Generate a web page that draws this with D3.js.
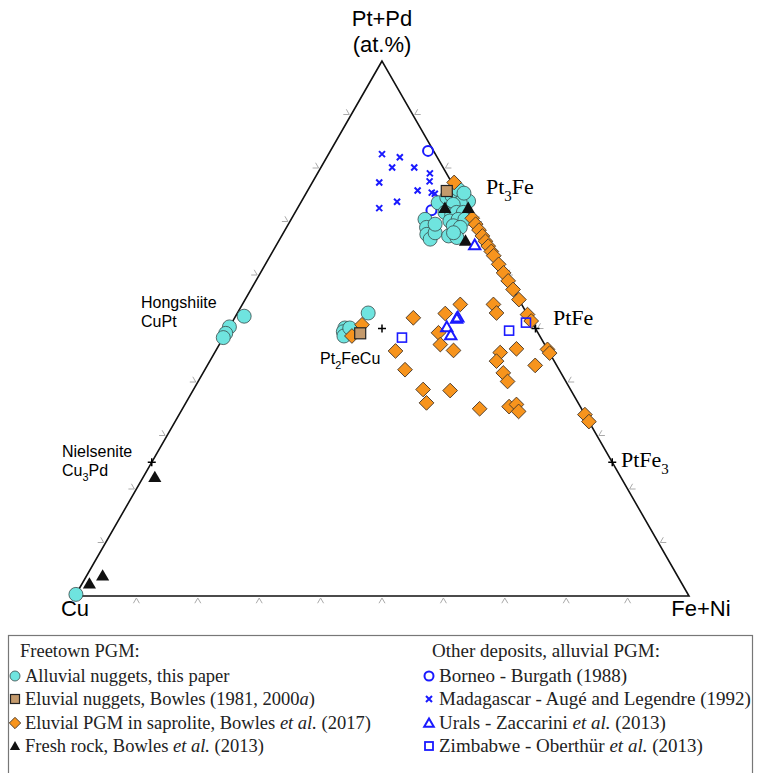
<!DOCTYPE html>
<html>
<head>
<meta charset="utf-8">
<script src="https://cdnjs.cloudflare.com/ajax/libs/d3/7.8.5/d3.min.js"></script>
<style>
    body { margin: 0; background: #fff; }
    #tern-chart svg { display: block; }
</style>
</head>
<body>
<div id="tern-chart"></div>
<script>
// compositions are [Pt+Pd, Fe+Ni] in at.%, Cu is whatever is left
const alluvialNuggets = [
    [73.5,22.4],[74.5,23.3],[74.8,24.0],[74.5,25.2],[74.8,25.9],[73.8,27.2],[73.5,26.0],[73.2,25.0],
    [71.7,24.4],[71.3,25.7],[71.7,26.3],[71.7,27.4],[70.1,26.0],[70.4,27.2],[70.4,28.3],[69.2,27.0],
    [68.9,28.3],[70.4,21.8],[68.9,22.8],[67.6,23.5],[66.7,24.5],[67.9,24.7],[69.5,23.9],[67.3,27.2],
    [67.0,28.7],[67.9,27.7],[76.0,24.4],[75.3,25.7],
    [52.3,1.4],[50.3,0],[49.1,0],[48.3,0],
    [52.9,21.3],[50.1,18.9],[49.4,19.0],[48.6,19.5],[50.1,19.7],
    [0.3,0]
];
const eluvialNuggets = [[75.7,22.7],[49.1,21.9]];
const saprolitePGM = [
    // along the Pt-Fe join
    [77.3,23.1],[70.6,29.4],[69.5,30.5],[68.4,31.6],[67.3,32.7],[66.3,33.7],[65.4,34.6],[64.4,35.6],
    [63.6,36.4],[62.0,38.0],[60.4,39.6],[58.9,41.1],[57.3,42.7],[55.4,44.6],[52.6,47.4],[51.4,48.6],
    [46.1,53.9],[45.4,54.6],[33.9,66.1],[32.6,67.4],
    // inside the triangle
    [54.5,35.5],[54.5,40.9],[52.9,42.2],[52.0,29.1],[52.8,33.9],[49.2,34.6],[47.0,36.0],[45.9,38.7],
    [45.8,29.3],[42.3,32.6],[45.5,46.5],[43.9,46.7],[46.2,48.8],[43.1,53.4],[41.7,48.9],[40.1,50.4],
    [38.6,37.4],[38.4,41.9],[36.1,39.2],[35.0,48.4],[35.4,53.0],[35.8,54.0],[34.5,55.0],
    [50.7,21.4],[48.6,20.8]
];
const freshRock = [[22.0,2.0],[2.1,1.3],[3.6,2.7],[72.3,24.1],[72.3,27.9],[66.2,30.5]];
const borneo = [[83.2,15.9],[72.1,22.0]];
const madagascar = [
    [82.6,8.7],[82.0,11.9],[80.1,11.6],[80.1,15.2],[79.0,18.3],[77.3,10.9],[77.5,19.0],[75.8,17.9],
    [75.4,20.4],[75.2,21.0],[73.7,15.6],[72.5,13.3],[67.0,33.0]
];
const urals = [[65.4,32.4],[51.7,36.3],[51.9,36.4],[50.1,35.5],[48.6,36.9]];
const zimbabwe = [[48.3,29.1],[49.6,45.9],[51.1,47.9]];

// ideal phases, marked with a small +
const phaseNames = ["Pt3Fe","PtFe","PtFe3","Pt2FeCu","CuPt","Cu3Pd"];
const phaseComps = [[75,25],[50,50],[25,75],[50,25],[50,0],[25,0]];
const tickValues = [10,20,30,40,50,60,70,80,90];

class ternaryPlot {
    constructor(){
        this.width = 762;
        this.height = 773;
        // base of the triangle and the Pt+Pd height
        this.xScale = d3.scaleLinear().domain([0,100]).range([75, 689]);
        this.yScale = d3.scaleLinear().domain([0,100]).range([596, 61]);
    }
    pos(d){
        return [this.xScale(d[1] + d[0]/2), this.yScale(d[0])];
    }
    draw(){
        let that = this;
        let svg = d3.select("#tern-chart")
            .append("svg")
            .attr("width", this.width)
            .attr("height", this.height);
        this.svg = svg;

        let corners = [[100,0],[0,0],[0,100]].map(d => that.pos(d));
        svg.append("path")
            .attr("d", d3.line()(corners) + "Z")
            .attr("fill", "none")
            .attr("stroke", "#111")
            .attr("stroke-width", 1.6);

        // little chevron ticks outside each side, every 10 %
        let tickLen = 6;
        let ticks = svg.append("g").attr("class", "ticks")
            .attr("stroke", "#aaa").attr("stroke-width", 1).attr("fill", "none");
        // base (Cu - Fe+Ni)
        ticks.selectAll(".tb").data(tickValues).enter().append("path")
            .attr("d", v => {
                let p = that.pos([0, v]);
                return "M" + (p[0]-tickLen*0.5) + "," + (p[1]+2+tickLen*0.87) + "L" + p[0] + "," + (p[1]+2) +
                    "L" + (p[0]+tickLen*0.5) + "," + (p[1]+2+tickLen*0.87);
            });
        // left side (Cu - Pt+Pd)
        ticks.selectAll(".tl").data(tickValues).enter().append("path")
            .attr("d", v => {
                let p = that.pos([v, 0]);
                let x0 = p[0]-2;
                return "M" + (x0-tickLen) + "," + p[1] + "L" + x0 + "," + p[1] +
                    "L" + (x0-tickLen*0.5) + "," + (p[1]-tickLen*0.87);
            });
        // right side (Pt+Pd - Fe+Ni)
        ticks.selectAll(".tr").data(tickValues).enter().append("path")
            .attr("d", v => {
                let p = that.pos([v, 100-v]);
                let x0 = p[0]+2;
                return "M" + (x0+tickLen) + "," + p[1] + "L" + x0 + "," + p[1] +
                    "L" + (x0+tickLen*0.5) + "," + (p[1]-tickLen*0.87);
            });

        // phase crosses
        svg.append("g").selectAll("path")
            .data(phaseComps).enter()
            .append("path")
            .attr("d", d => {
                let p = that.pos(d);
                return "M" + (p[0]-4) + "," + p[1] + "h8M" + p[0] + "," + (p[1]-4) + "v8";
            })
            .attr("stroke", "#000")
            .attr("stroke-width", 1.5);

        let blue = "#1a1aff";
        let sym = (type, size) => d3.symbol().type(type).size(size);

        // Borneo
        svg.append("g").selectAll("circle").data(borneo).enter()
            .append("circle")
            .attr("cx", d => that.pos(d)[0]).attr("cy", d => that.pos(d)[1])
            .attr("r", 5).attr("fill", "none").attr("stroke", blue).attr("stroke-width", 2);
        // Madagascar
        svg.append("g").selectAll("path").data(madagascar).enter()
            .append("path")
            .attr("transform", d => "translate(" + that.pos(d) + ")")
            .attr("d", "M-3,-3L3,3M-3,3L3,-3")
            .attr("stroke", blue).attr("stroke-width", 2);
        // Freetown alluvial
        svg.append("g").selectAll("circle").data(alluvialNuggets).enter()
            .append("circle")
            .attr("cx", d => that.pos(d)[0]).attr("cy", d => that.pos(d)[1])
            .attr("r", 7)
            .attr("fill", "#6fe4df").attr("stroke", "#3a4a4a").attr("stroke-width", 0.8);
        // saprolite PGM
        svg.append("g").selectAll("path").data(saprolitePGM).enter()
            .append("path")
            .attr("transform", d => "translate(" + that.pos(d) + ") rotate(45)")
            .attr("d", "M-5.2,-5.2h10.4v10.4h-10.4Z")
            .attr("fill", "#f7941d").attr("stroke", "#4a3a2a").attr("stroke-width", 0.9);
        // eluvial nuggets
        svg.append("g").selectAll("rect").data(eluvialNuggets).enter()
            .append("rect")
            .attr("x", d => that.pos(d)[0]-5.5).attr("y", d => that.pos(d)[1]-5.5)
            .attr("width", 11).attr("height", 11)
            .attr("fill", "#c49a6c").attr("stroke", "#222").attr("stroke-width", 1.2);
        // fresh rock
        svg.append("g").selectAll("path").data(freshRock).enter()
            .append("path")
            .attr("transform", d => "translate(" + that.pos(d) + ")")
            .attr("d", sym(d3.symbolTriangle, 75))
            .attr("fill", "#111");
        // Urals
        svg.append("g").selectAll("path").data(urals).enter()
            .append("path")
            .attr("transform", d => "translate(" + that.pos(d) + ")")
            .attr("d", sym(d3.symbolTriangle, 55))
            .attr("fill", "none").attr("stroke", blue).attr("stroke-width", 2);
        // Zimbabwe
        svg.append("g").selectAll("rect").data(zimbabwe).enter()
            .append("rect")
            .attr("x", d => that.pos(d)[0]-4.5).attr("y", d => that.pos(d)[1]-4.5)
            .attr("width", 9).attr("height", 9)
            .attr("fill", "none").attr("stroke", blue).attr("stroke-width", 1.6);

        this.labels();
        this.legend();
    }
    labels(){
        let svg = this.svg;
        let sans = "'Liberation Sans', Arial, sans-serif";
        let serif = "'Liberation Serif', 'Times New Roman', serif";
        let apex = this.pos([100,0]);

        svg.append("text").attr("x", apex[0]).attr("y", 26).attr("text-anchor", "middle")
            .style("font-family", sans).style("font-size", "22px").text("Pt+Pd");
        svg.append("text").attr("x", apex[0]).attr("y", 52).attr("text-anchor", "middle")
            .style("font-family", sans).style("font-size", "22px").text("(at.%)");
        svg.append("text").attr("x", this.xScale(0)).attr("y", 616).attr("text-anchor", "middle")
            .style("font-family", sans).style("font-size", "22px").text("Cu");
        svg.append("text").attr("x", this.xScale(100)+12).attr("y", 616).attr("text-anchor", "middle")
            .style("font-family", sans).style("font-size", "22px").text("Fe+Ni");

        // phase labels, subscript parts flagged with 1
        let sub = (parts, x, y, font, size) => {
            let txt = svg.append("text").attr("x", x).attr("y", y)
                .style("font-family", font).style("font-size", size + "px");
            let down = false;
            parts.forEach(p => {
                let ts = txt.append("tspan").text(p[0]);
                if (p[1]) {
                    ts.attr("dy", size*0.3).style("font-size", (size*0.68) + "px");
                    down = true;
                } else if (down) {
                    ts.attr("dy", -size*0.3);
                    down = false;
                }
            });
            return txt;
        };
        sub([["Pt"],["3",1],["Fe"]], 486, 194, serif, 22);
        sub([["PtFe"]], 553, 325, serif, 22);
        sub([["PtFe"],["3",1]], 621, 467, serif, 22);
        sub([["Pt"],["2",1],["FeCu"]], 320, 364, sans, 16);
        sub([["Hongshiite"]], 141, 308, sans, 16);
        sub([["CuPt"]], 141, 327, sans, 16);
        sub([["Nielsenite"]], 62, 457, sans, 16);
        sub([["Cu"],["3",1],["Pd"]], 62, 476, sans, 16);
    }
    legend(){
        let svg = this.svg;
        let serif = "'Liberation Serif', 'Times New Roman', serif";
        let blue = "#1a1aff";
        let g = svg.append("g").attr("class", "legend");

        g.append("rect").attr("x", 8.5).attr("y", 635.5).attr("width", 744).attr("height", 150)
            .attr("fill", "none").attr("stroke", "#777").attr("stroke-width", 1.2);

        let rowY = [657, 682, 705, 729, 752];
        let leftItems = [
            ["Freetown PGM:"],
            ["Alluvial nuggets, this paper"],
            ["Eluvial nuggets, Bowles (1981, 2000", "a", ")"],
            ["Eluvial PGM in saprolite, Bowles ", "et al.", " (2017)"],
            ["Fresh rock, Bowles ", "et al.", " (2013)"]
        ];
        let rightItems = [
            ["Other deposits, alluvial PGM:"],
            ["Borneo - Burgath (1988)"],
            ["Madagascar - Augé and Legendre (1992)"],
            ["Urals - Zaccarini ", "et al.", " (2013)"],
            ["Zimbabwe - Oberthür ", "et al.", " (2013)"]
        ];
        let writeRow = (parts, x, y, size) => {
            let t = g.append("text").attr("x", x).attr("y", y)
                .style("font-family", serif).style("font-size", size + "px").attr("fill", "#222");
            parts.forEach((p, i) => {
                t.append("tspan").style("font-style", i % 2 == 1 ? "italic" : "normal").text(p);
            });
        };
        leftItems.forEach((d, i) => writeRow(d, i == 0 ? 20 : 25, rowY[i], 18.5));
        rightItems.forEach((d, i) => writeRow(d, i == 0 ? 432 : 439, rowY[i], 19));

        let lx = 15, rx = 429;
        let cy = rowY.map(v => v - 6);
        g.append("circle").attr("cx", lx).attr("cy", cy[1]).attr("r", 5)
            .attr("fill", "#6fe4df").attr("stroke", "#3a4a4a").attr("stroke-width", 0.8);
        g.append("rect").attr("x", lx-4.5).attr("y", cy[2]-4.5).attr("width", 9).attr("height", 9)
            .attr("fill", "#c49a6c").attr("stroke", "#222").attr("stroke-width", 1.2);
        g.append("path").attr("transform", "translate(" + lx + "," + cy[3] + ") rotate(45)")
            .attr("d", "M-4,-4h8v8h-8Z")
            .attr("fill", "#f7941d").attr("stroke", "#4a3a2a").attr("stroke-width", 0.9);
        g.append("path").attr("transform", "translate(" + lx + "," + (cy[4]+1) + ")")
            .attr("d", d3.symbol().type(d3.symbolTriangle).size(45)).attr("fill", "#111");

        g.append("circle").attr("cx", rx).attr("cy", cy[1]).attr("r", 4.5)
            .attr("fill", "none").attr("stroke", blue).attr("stroke-width", 2);
        g.append("path").attr("transform", "translate(" + rx + "," + cy[2] + ")")
            .attr("d", "M-3,-3L3,3M-3,3L3,-3").attr("stroke", blue).attr("stroke-width", 2);
        g.append("path").attr("transform", "translate(" + rx + "," + (cy[3]+1) + ")")
            .attr("d", d3.symbol().type(d3.symbolTriangle).size(40))
            .attr("fill", "none").attr("stroke", blue).attr("stroke-width", 2);
        g.append("rect").attr("x", rx-4).attr("y", cy[4]-4).attr("width", 8).attr("height", 8)
            .attr("fill", "none").attr("stroke", blue).attr("stroke-width", 1.8);
    }
}

let plot = new ternaryPlot();
plot.draw();
</script>
</body>
</html>
